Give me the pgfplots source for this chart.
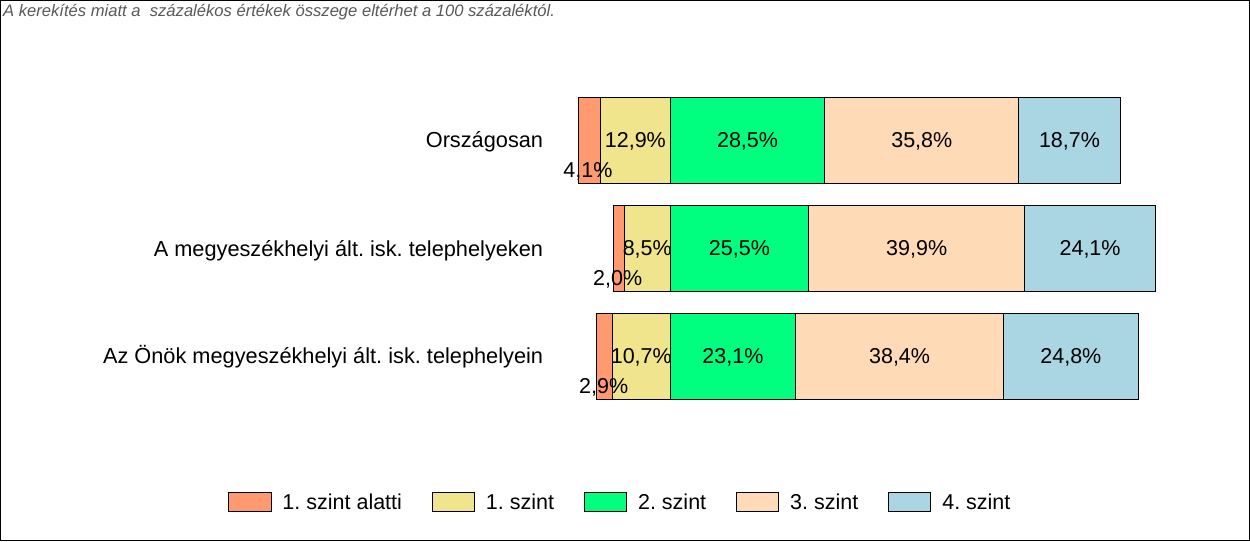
\documentclass[border=0pt]{standalone}
\usepackage{pgfplots}
\pgfplotsset{compat=1.18}
\usepackage{fontspec}
\setmainfont{Liberation Sans}
\frenchspacing
\definecolor{calatti}{RGB}{255,153,112}
\definecolor{cegy}{RGB}{240,228,140}
\definecolor{ckett}{RGB}{0,255,127}
\definecolor{charom}{RGB}{255,218,183}
\definecolor{cnegy}{RGB}{170,214,228}
\newcommand{\bigf}{\fontsize{21.5}{25}\selectfont}
\newcommand{\catf}{\fontsize{21.75}{25}\selectfont}
\pgfplotsset{
  myleg/.style={legend image code/.code={\draw[##1, line width=1pt] (0pt,-9.4pt) rectangle (42pt,10pt);}},
  segment/.style={draw=black, line width=1pt, myleg},
}
% x axis: percentage shifted by +30 (the 1./2. szint boundary lies at 30)
\begin{document}
\begin{tikzpicture}
\useasboundingbox (0,0) rectangle (1250pt,541pt);
\fill[white] (0,0) rectangle (1250pt,541pt);
\draw[line width=1.2pt] (0.6pt,0.6pt) rectangle (1249.4pt,540.4pt);
\node[anchor=base west, inner sep=0pt, text=black!65, font=\fontsize{16.6}{18}\selectfont\itshape] at (3pt,524.3pt) {A kerekítés miatt a~ százalékos értékek összege eltérhet a 100 százaléktól.};

\begin{axis}[
  at={(560pt,119.9pt)}, anchor=south west,
  scale only axis, width=680pt, height=345.6pt,
  xmin=9.65, xmax=135.11, ymin=-0.6, ymax=2.6,
  xbar stacked, bar width=85.5pt,
  axis line style={draw=none}, major tick length=0pt, tick style={draw=none},
  xtick=\empty, ytick={0,1,2},
  yticklabels={Az Önök megyeszékhelyi ált. isk. telephelyein, A megyeszékhelyi ált. isk. telephelyeken, Országosan},
  yticklabel style={font=\catf, anchor=base east, inner sep=0pt, xshift=-16.7pt, yshift=-7.7pt},
  legend columns=5,
  legend style={at={(axis description cs:-0.4878,-0.2335)}, anchor=west, draw=none, fill=none, inner sep=0pt,
    font=\bigf, nodes={inner sep=0pt},
    /tikz/every even column/.append style={column sep=30pt},
    /tikz/every odd column/.append style={column sep=11pt}},
  clip=false,
]
\addplot[draw=none, fill=none] coordinates {(16.4,0) (19.5,1) (13.0,2)};
\addplot[segment, fill=calatti] coordinates {(2.9,0) (2.0,1) (4.1,2)};
\addplot[segment, fill=cegy] coordinates {(10.7,0) (8.5,1) (12.9,2)};
\addplot[segment, fill=ckett] coordinates {(23.1,0) (25.5,1) (28.5,2)};
\addplot[segment, fill=charom] coordinates {(38.4,0) (39.9,1) (35.8,2)};
\addplot[segment, fill=cnegy] coordinates {(24.8,0) (24.1,1) (18.7,2)};
\legend{,1. szint alatti, 1. szint, 2. szint, 3. szint, 4. szint}
\end{axis}

\begin{axis}[
  at={(560pt,119.9pt)}, anchor=south west,
  scale only axis, width=680pt, height=345.6pt,
  xmin=9.65, xmax=135.11, ymin=-0.6, ymax=2.6,
  hide axis, clip=false,
]
\addplot[only marks, mark=o, mark size=0pt, mark options={draw=none}, nodes near coords, point meta=explicit symbolic,
  nodes near coords style={anchor=base, inner sep=0pt, font=\bigf, yshift=-7.6pt}]
  coordinates {
  (23.55,2) [12,9\%] (44.25,2) [28,5\%] (76.4,2) [35,8\%] (103.65,2) [18,7\%]
  (25.75,1) [8,5\%] (42.75,1) [25,5\%] (75.45,1) [39,9\%] (107.45,1) [24,1\%]
  (24.65,0) [10,7\%] (41.55,0) [23,1\%] (72.3,0) [38,4\%] (103.9,0) [24,8\%]
  };
\addplot[only marks, mark=o, mark size=0pt, mark options={draw=none}, nodes near coords, point meta=explicit symbolic,
  nodes near coords style={anchor=base, inner sep=0pt, font=\bigf, yshift=-37.3pt}]
  coordinates {
  (14.8,2) [4,1\%] (20.3,1) [2,0\%] (17.7,0) [2,9\%]
  };
\end{axis}
\end{tikzpicture}
\end{document}
